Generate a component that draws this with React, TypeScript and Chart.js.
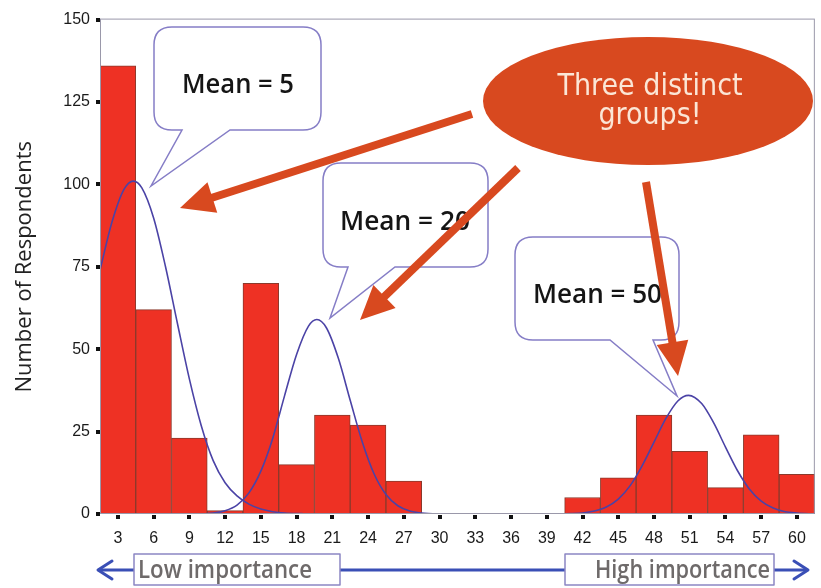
import React, { useEffect, useRef } from 'react';
import { Chart, registerables } from 'chart.js';

Chart.register(...registerables);

// ---- data ----
const categories = ['3', '6', '9', '12', '15', '18', '21', '24', '27', '30', '33', '36', '39', '42', '45', '48', '51', '54', '57', '60'];
const respondents = [136, 62, 23, 1, 70, 15, 30, 27, 10, 0, 0, 0, 0, 5, 11, 30, 19, 8, 24, 12];
const yTickValues = [0, 25, 50, 75, 100, 125, 150];

// normal curves (x in importance units, y in respondents)
const lowCurveX = [1.5, 2.5, 3.5, 4.3, 5, 6, 7, 8, 9, 10, 11, 12, 13, 14, 15, 16, 17, 18.5];
const lowCurveY = [74, 88.5, 98.4, 101, 99, 89.8, 75, 57.8, 41, 26.8, 16.2, 9.5, 5.5, 3, 1.5, 0.7, 0.3, 0.1];
const midCurveX = [10, 11, 12, 13, 14, 15, 16, 17, 18, 19, 19.7, 20.5, 21.5, 22.5, 23.5, 24.5, 25.5, 26.5, 27.5, 28.5, 30.5];
const midCurveY = [0, 0.3, 1, 2.7, 6.4, 13, 23, 36, 48.4, 57, 59, 56.5, 47.3, 34.5, 22, 12.2, 5.9, 2.5, 0.9, 0.3, 0];
const highCurveX = [39.5, 41, 42, 43, 44, 45, 46, 47, 48, 49, 50, 50.9, 52, 53, 54, 55, 56, 57, 58, 59, 60, 61.5];
const highCurveY = [0, 0.1, 0.3, 0.9, 2.1, 4.5, 8.6, 14.6, 21.8, 29, 34.3, 36, 33.5, 27.7, 20.3, 13.2, 7.6, 3.9, 1.8, 0.7, 0.3, 0];

const meanLabels = ['Mean = 5', 'Mean = 20', 'Mean = 50'];
const bubbleTitle = ['Three distinct', 'groups!'];
const scaleLabels = ['Low importance', 'High importance'];
const yTitle = 'Number of Respondents';

const toPoints = (xs: number[], ys: number[]) => xs.map((x, i) => ({ x, y: ys[i] }));

const CURVE_COLOR = '#4b43a6';
const ORANGE = '#d8491f';
const BUBBLE_BORDER = '#857dc6';
const COND = '"DejaVu Sans Condensed", "DejaVu Sans", sans-serif';
const OPEN = '"Open Sans", "Noto Sans", sans-serif';

function callout(ctx: CanvasRenderingContext2D, x0: number, y0: number, x1: number, y1: number, r: number,
  tl: number, tr: number, tipX: number, tipY: number) {
  ctx.beginPath();
  ctx.moveTo(x0 + r, y0);
  ctx.lineTo(x1 - r, y0);
  ctx.quadraticCurveTo(x1, y0, x1, y0 + r);
  ctx.lineTo(x1, y1 - r);
  ctx.quadraticCurveTo(x1, y1, x1 - r, y1);
  ctx.lineTo(tr, y1);
  ctx.lineTo(tipX, tipY);
  ctx.lineTo(tl, y1);
  ctx.lineTo(x0 + r, y1);
  ctx.quadraticCurveTo(x0, y1, x0, y1 - r);
  ctx.lineTo(x0, y0 + r);
  ctx.quadraticCurveTo(x0, y0, x0 + r, y0);
  ctx.closePath();
  ctx.fillStyle = '#ffffff';
  ctx.fill();
  ctx.strokeStyle = BUBBLE_BORDER;
  ctx.lineWidth = 1.5;
  ctx.stroke();
}

function arrow(ctx: CanvasRenderingContext2D, x1: number, y1: number, x2: number, y2: number,
  w: number, headLen: number, headW: number) {
  const dx = x2 - x1, dy = y2 - y1;
  const len = Math.hypot(dx, dy);
  const ux = dx / len, uy = dy / len;
  const bx = x2 - ux * headLen, by = y2 - uy * headLen;
  ctx.strokeStyle = ORANGE;
  ctx.fillStyle = ORANGE;
  ctx.lineWidth = w;
  ctx.lineCap = 'butt';
  ctx.beginPath();
  ctx.moveTo(x1, y1);
  ctx.lineTo(bx + ux * 2, by + uy * 2);
  ctx.stroke();
  ctx.beginPath();
  ctx.moveTo(x2, y2);
  ctx.lineTo(bx - uy * headW, by + ux * headW);
  ctx.lineTo(bx + uy * headW, by - ux * headW);
  ctx.closePath();
  ctx.fill();
}

const decorPlugin = {
  id: 'decor',
  afterDraw(chart: any) {
    const ctx: CanvasRenderingContext2D = chart.ctx;
    const a = chart.chartArea;
    const xs = chart.scales.x;
    const ys = chart.scales.y;
    ctx.save();

    // frame
    ctx.strokeStyle = '#9a98aa';
    ctx.lineWidth = 1;
    ctx.strokeRect(a.left + 0.5, a.top - 0.5, a.right - a.left - 1, a.bottom - a.top);

    // tick marks (small squares)
    ctx.fillStyle = '#111';
    yTickValues.forEach((v) => {
      const y = ys.getPixelForValue(v);
      ctx.fillRect(a.left - 4, Math.round(y) - 2, 4, 4);
    });
    categories.forEach((_, i) => {
      const x = xs.getPixelForTick(i);
      ctx.fillRect(Math.round(x) - 2, a.bottom + 1, 4, 4);
    });

    // callouts
    callout(ctx, 154, 27, 321, 130, 18, 182, 230, 151, 186);
    callout(ctx, 323, 163, 488, 267, 18, 348, 395, 330, 318);
    callout(ctx, 515, 237, 679, 340, 18, 610, 653, 677, 396);

    ctx.fillStyle = '#151515';
    ctx.font = `600 27px ${OPEN}`;
    ctx.textAlign = 'left';
    ctx.textBaseline = 'alphabetic';
    ctx.fillText(meanLabels[0], 182, 93, 112);
    ctx.fillText(meanLabels[1], 340, 230, 130);
    ctx.fillText(meanLabels[2], 533, 303, 129);

    // orange ellipse
    ctx.fillStyle = ORANGE;
    ctx.beginPath();
    ctx.ellipse(648, 101, 165, 64, 0, 0, Math.PI * 2);
    ctx.fill();
    ctx.fillStyle = '#fbe6d6';
    ctx.font = `30px ${COND}`;
    ctx.textAlign = 'center';
    ctx.fillText(bubbleTitle[0], 650, 95, 195);
    ctx.fillText(bubbleTitle[1], 650, 124);

    // orange arrows
    arrow(ctx, 472, 114, 180, 208, 8, 34, 16);
    arrow(ctx, 518, 168, 360, 320, 8, 34, 16);
    arrow(ctx, 646, 182, 678, 376, 8, 34, 16);

    // bottom importance arrow
    const blue = '#3a4fb6';
    ctx.strokeStyle = blue;
    ctx.lineWidth = 3;
    ctx.lineCap = 'round';
    ctx.lineJoin = 'round';
    ctx.beginPath();
    ctx.moveTo(99, 570);
    ctx.lineTo(806, 570);
    ctx.stroke();
    ctx.beginPath();
    ctx.moveTo(112, 561);
    ctx.lineTo(98, 570);
    ctx.lineTo(112, 579);
    ctx.stroke();
    ctx.beginPath();
    ctx.moveTo(794, 561);
    ctx.lineTo(808, 570);
    ctx.lineTo(794, 579);
    ctx.stroke();

    ctx.lineWidth = 1.5;
    ctx.strokeStyle = '#8c86c4';
    ctx.fillStyle = '#ffffff';
    ctx.fillRect(134, 554, 206, 31);
    ctx.strokeRect(134, 554, 206, 31);
    ctx.fillRect(565, 554, 209, 31);
    ctx.strokeRect(565, 554, 209, 31);
    ctx.fillStyle = '#6e6a6a';
    ctx.font = `600 26px ${OPEN}`;
    ctx.textAlign = 'left';
    ctx.fillText(scaleLabels[0], 138, 578, 174);
    ctx.fillText(scaleLabels[1], 595, 578, 175);

    ctx.restore();
  },
};

export default function App() {
  const ref = useRef<HTMLCanvasElement>(null);
  useEffect(() => {
    if (!ref.current) return;
    const curveDs = (xs: number[], ys: number[]) => ({
      type: 'line' as const,
      data: toPoints(xs, ys),
      xAxisID: 'xLin',
      yAxisID: 'y',
      borderColor: CURVE_COLOR,
      borderWidth: 1.6,
      pointRadius: 0,
      fill: false,
      tension: 0.4,
      cubicInterpolationMode: 'monotone' as const,
      order: 1,
    });
    const chart = new Chart(ref.current, {
      type: 'bar',
      data: {
        labels: categories,
        datasets: [
          {
            type: 'bar',
            xAxisID: 'x',
            yAxisID: 'y',
            data: respondents,
            backgroundColor: '#ee3124',
            borderColor: '#8a3a2c',
            borderWidth: 1,
            borderSkipped: false,
            barPercentage: 1,
            categoryPercentage: 1,
            grouped: false,
            order: 2,
          } as any,
          curveDs(lowCurveX, lowCurveY),
          curveDs(midCurveX, midCurveY),
          curveDs(highCurveX, highCurveY),
        ],
      },
      options: {
        responsive: false,
        animation: false,
        layout: { padding: { left: 0, right: 5, top: 15, bottom: 0 } },
        plugins: { legend: { display: false }, tooltip: { enabled: false } },
        scales: {
          x: {
            type: 'category',
            offset: true,
            grid: { display: false, drawTicks: false },
            border: { display: false },
            ticks: {
              color: '#1a1a1a',
              font: { family: '"Liberation Sans", Arial, sans-serif', size: 16 },
              padding: 15,
              maxRotation: 0,
              autoSkip: false,
            },
            afterFit: (s: any) => { s.height = 74; },
          },
          xLin: {
            type: 'linear',
            display: false,
            offset: false,
            position: 'bottom',
            min: 1.5,
            max: 61.5,
          },
          y: {
            type: 'linear',
            min: 0,
            max: 150,
            grid: { display: false, drawTicks: false },
            border: { display: false },
            ticks: {
              stepSize: 25,
              color: '#1a1a1a',
              font: { family: '"Liberation Sans", Arial, sans-serif', size: 16 },
              padding: 10,
            },
            title: {
              display: true,
              text: yTitle,
              color: '#222',
              font: { family: '"Open Sans", sans-serif', size: 22 },
              padding: { top: 12, bottom: 0 },
            },
            afterFit: (s: any) => { s.width = 100; },
          },
        },
      },
      plugins: [decorPlugin],
    });
    return () => chart.destroy();
  }, []);
  return (
    <div style={{ position: 'fixed', left: 0, top: 0, width: 821, height: 588, background: '#fff' }}>
      <canvas ref={ref} width={821} height={588} style={{ display: 'block' }} />
    </div>
  );
}
